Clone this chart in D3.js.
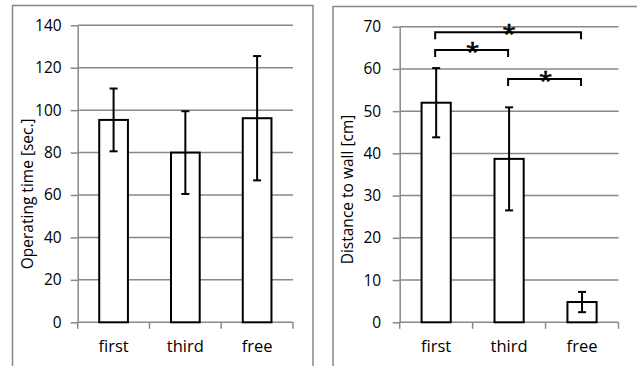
<!DOCTYPE html>
<html><head><meta charset="utf-8">
<script src="https://cdn.jsdelivr.net/npm/d3@7"></script>
<style>body{margin:0;background:#fff} text{font-family:"Open Sans",sans-serif;fill:#000}</style>
</head><body><svg id="c" width="637" height="366"></svg>
<script>
const categories = ["first", "third", "free"];
const timeMeans = [95.4, 80, 96.2];
const timeErrors = [14.8, 19.5, 29.3];
const timeTicks = [0, 20, 40, 60, 80, 100, 120, 140];
const timeTitle = "Operating time [sec.]";
const distMeans = [52, 38.7, 4.8];
const distErrors = [8.2, 12.2, 2.4];
const distTicks = [0, 10, 20, 30, 40, 50, 60, 70];
const distTitle = "Distance to wall [cm]";
const sigFrom = ["first", "first", "third"];
const sigTo = ["free", "third", "free"];
const sigLevel = [68.7, 64.5, 57.6];
const sigLabels = ["*", "*", "*"];

const svg = d3.select("#c");
const GRID = "#888888";

function panel(o) {
  const g = svg.append("g");
  g.append("rect").attr("x", o.frame[0]).attr("y", o.frame[1]).attr("width", o.frame[2]).attr("height", 420)
    .attr("fill", "none").attr("stroke", GRID).attr("stroke-width", 1.5);
  const x = d3.scaleBand().domain(categories).range([o.left, o.right]).padding(0);
  const y = d3.scaleLinear().domain([0, d3.max(o.ticks)]).range([o.bottom, o.top]);
  g.append("g").selectAll("line").data(o.ticks.slice(1)).join("line")
    .attr("x1", o.left).attr("x2", o.right).attr("y1", d => y(d)).attr("y2", d => y(d))
    .attr("stroke", GRID).attr("stroke-width", 1.5);
  const ya = g.append("g").attr("transform", `translate(${o.left},0)`)
    .call(d3.axisLeft(y).tickValues(o.ticks).tickSize(7).tickPadding(o.pad).tickSizeOuter(0));
  ya.select(".domain").attr("stroke", GRID).attr("stroke-width", 1.5);
  ya.selectAll(".tick line").attr("stroke", GRID).attr("stroke-width", 1.5);
  ya.selectAll("text").attr("font-size", 15.5).attr("font-family", '"Open Sans",sans-serif').attr("fill", "#000");
  const xa = g.append("g").attr("transform", `translate(0,${o.bottom})`);
  xa.append("line").attr("x1", o.left).attr("x2", o.right).attr("stroke", GRID).attr("stroke-width", 1.5);
  const bounds = categories.map(c => x(c)).concat([x(categories[categories.length - 1]) + x.bandwidth()]);
  xa.selectAll(".tk").data(bounds).join("line").attr("class", "tk")
    .attr("x1", d => d).attr("x2", d => d).attr("y1", 0).attr("y2", 6.5)
    .attr("stroke", GRID).attr("stroke-width", 1.5);
  xa.selectAll(".lb").data(categories).join("text").attr("class", "lb")
    .attr("x", d => x(d) + x.bandwidth() / 2).attr("y", 29.5).attr("text-anchor", "middle")
    .attr("font-size", 16.5).text(d => d);
  g.append("text").attr("transform", `translate(${o.titleX},${(o.top + o.bottom) / 2 + o.titleDy}) rotate(-90)`)
    .attr("text-anchor", "middle").attr("font-size", 15.5).text(o.title);
  const bw = x.bandwidth() * 0.4;
  g.append("g").selectAll("rect").data(o.means).join("rect")
    .attr("x", (d, i) => x(categories[i]) + (x.bandwidth() - bw) / 2)
    .attr("y", d => y(d)).attr("width", bw).attr("height", d => o.bottom - y(d))
    .attr("fill", "#fff").attr("stroke", "#000").attr("stroke-width", 2);
  const eb = g.append("g").attr("stroke", "#000").attr("stroke-width", 2);
  o.means.forEach((m, i) => {
    const cx = x(categories[i]) + x.bandwidth() / 2;
    const hi = y(m + o.errs[i]), lo = y(m - o.errs[i]);
    eb.append("line").attr("x1", cx).attr("x2", cx).attr("y1", hi).attr("y2", lo);
    eb.append("line").attr("x1", cx - 4).attr("x2", cx + 4).attr("y1", hi).attr("y2", hi);
    eb.append("line").attr("x1", cx - 4).attr("x2", cx + 4).attr("y1", lo).attr("y2", lo);
  });
  return { g, x, y };
}

panel({ frame: [12.5, 5.5, 300.5], left: 77.7, right: 293, top: 25.3, bottom: 322.3, ticks: timeTicks,
  means: timeMeans, errs: timeErrors, title: timeTitle, titleX: 33, titleDy: 20, pad: 9 });
const R = panel({ frame: [333, 6.5, 400], left: 399.7, right: 618.5, top: 26.7, bottom: 322.3, ticks: distTicks,
  means: distMeans, errs: distErrors, title: distTitle, titleX: 353, titleDy: 15, pad: 11.5 });

const sg = R.g.append("g");
sigLevel.forEach((lv, i) => {
  const x1 = R.x(sigFrom[i]) + R.x.bandwidth() / 2 - 1;
  const x2 = R.x(sigTo[i]) + R.x.bandwidth() / 2 - 1;
  const yy = R.y(lv);
  sg.append("path").attr("d", `M${x1},${yy + 7}V${yy}H${x2}V${yy + 7}`)
    .attr("fill", "none").attr("stroke", "#000").attr("stroke-width", 2);
  sg.append("text").attr("x", (x1 + x2) / 2 + 1).attr("y", yy + 10).attr("text-anchor", "middle")
    .attr("font-size", 24).attr("stroke", "#000").attr("stroke-width", 0.6).text(sigLabels[i]);
});
</script></body></html>
